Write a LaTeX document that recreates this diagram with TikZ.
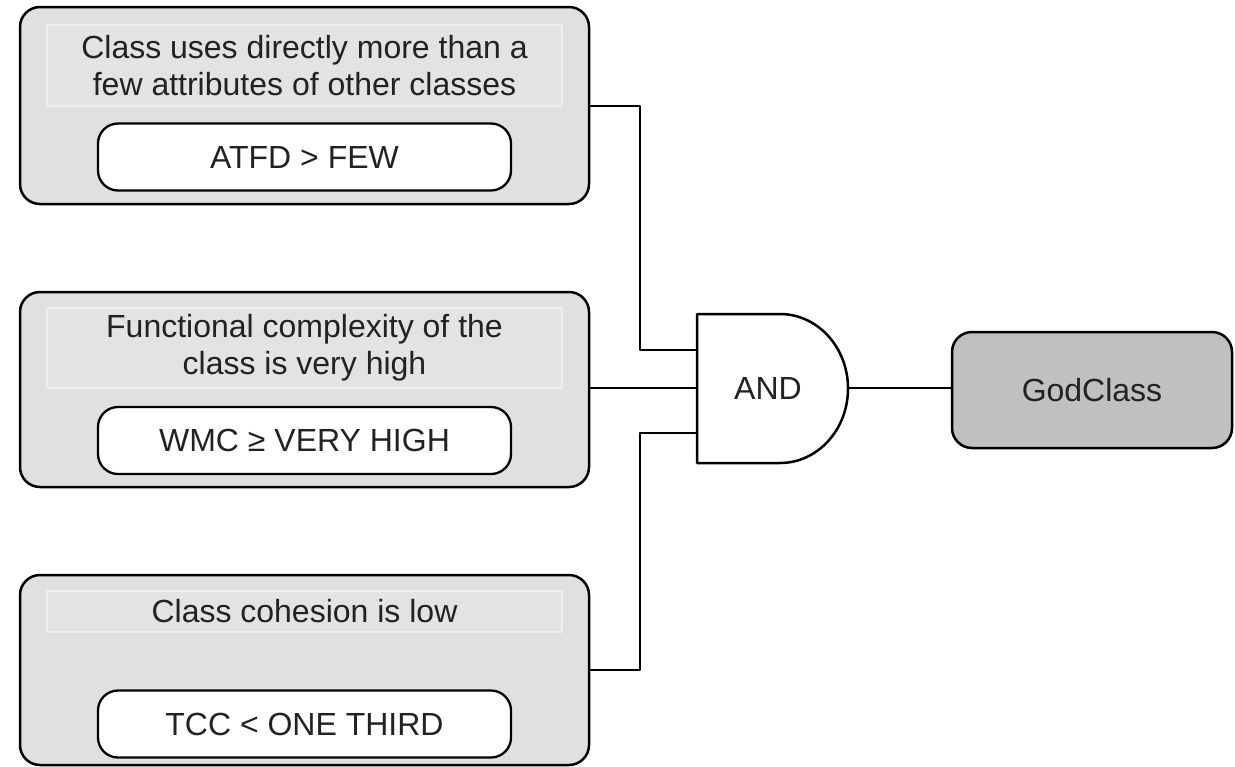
\documentclass[tikz,border=0pt]{standalone}
\usepackage{fontspec}
\setmainfont{Liberation Sans}
\definecolor{boxgray}{HTML}{E0E0E0}
\definecolor{stripgray}{HTML}{E3E3E3}
\definecolor{stripline}{HTML}{EFEFEF}
\definecolor{godgray}{HTML}{C0C0C0}
\definecolor{textgray}{HTML}{222222}
\tikzset{
  outerbox/.style={draw,line width=1.25pt,fill=boxgray,rounded corners=10pt,minimum width=284.5pt},
  titlestrip/.style={draw=stripline,line width=.8pt,fill=stripgray,minimum width=257.5pt,align=center,text=textgray,font=\fontsize{16}{18.5}\selectfont},
  metricbox/.style={draw,line width=1.15pt,fill=white,rounded corners=10pt,minimum width=206.5pt,minimum height=33.5pt,text=textgray},
  wire/.style={line width=1pt},
}
\begin{document}
\begin{tikzpicture}[x=.5pt,y=-.5pt,line join=round,font=\fontsize{16}{19}\selectfont]
	\useasboundingbox (0,0) rectangle (1235,766);
	% conditions
	\node[outerbox,minimum height=98.5pt] (C1) at (304.5,105.5) {};
	\node[titlestrip,minimum height=40.5pt] (T1) at (304.5,65.5) {Class uses directly more than a\\few attributes of other classes};
	\node[metricbox] (M1) at (304.5,157) {ATFD > FEW};
	\node[outerbox,minimum height=97.5pt] (C2) at (304.5,389.5) {};
	\node[titlestrip,minimum height=40pt] (T2) at (304.5,348) {Functional complexity of the\\class is very high};
	\node[metricbox] (M2) at (304.5,440.5) {WMC ≥ VERY HIGH};
	\node[outerbox,minimum height=95pt] (C3) at (304.5,670) {};
	\node[titlestrip,minimum height=20.5pt] (T3) at (304.5,611.5) {Class cohesion is low};
	\node[metricbox] (M3) at (304.5,724) {TCC < ONE THIRD};
	% and gate
	\draw[line width=1.25pt] (697,314) -- (780,314) arc[start angle=90,end angle=-90,x radius=34pt,y radius=37.25pt] -- (697,463) -- cycle;
	\node[text=textgray] (AND) at (768,388) {AND};
	\coordinate (in1) at (697,350);
	\coordinate (in2) at (697,388);
	\coordinate (in3) at (697,433);
	\coordinate (out) at (848,388);
	% result
	\node[draw,line width=1.25pt,fill=godgray,rounded corners=10pt,minimum width=140pt,minimum height=58pt,text=textgray] (G) at (1092,390) {GodClass};
	% wires
	\draw[wire] (C1.east) -| (640,350) -- (in1);
	\draw[wire] (C2.east |- in2) -- (in2);
	\draw[wire] (C3.east) -| (640,433) -- (in3);
	\draw[wire] (out) -- (G.west |- out);
\end{tikzpicture}
\end{document}
